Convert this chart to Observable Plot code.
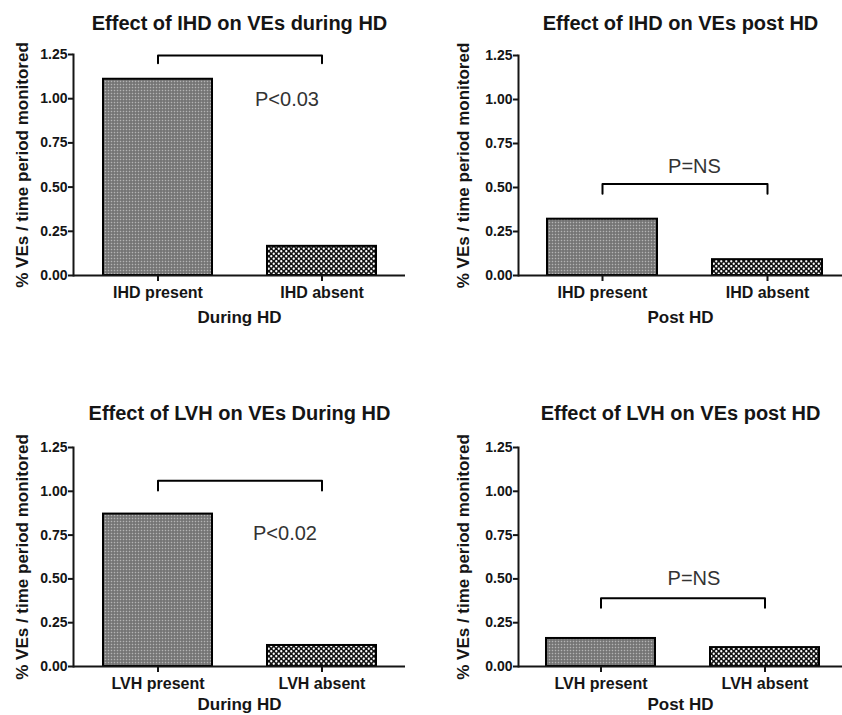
<!DOCTYPE html>
<html><head><meta charset="utf-8">
<script src="https://cdn.jsdelivr.net/npm/d3@7"></script>
<script src="https://cdn.jsdelivr.net/npm/@observablehq/plot@0.6"></script>
<style>
body{margin:0;background:#fff;}
#wrap{position:relative;width:842px;height:715px;overflow:hidden;}
.panel{position:absolute;}
.panel svg{display:block;}
</style></head><body>
<svg width="0" height="0" style="position:absolute">
<defs>
<pattern id="fineDots" width="3" height="3" patternUnits="userSpaceOnUse">
<rect width="3" height="3" fill="#828282"/>
<rect x="0" y="0" width="1" height="1" fill="#b4b4b4"/>
<rect x="1.5" y="1.5" width="1" height="1" fill="#505050"/>
</pattern>
<pattern id="coarseDots" width="5" height="5" patternUnits="userSpaceOnUse">
<rect width="5" height="5" fill="#111"/>
<circle cx="1.25" cy="1.25" r="1.15" fill="#fff"/>
<circle cx="3.75" cy="3.75" r="1.15" fill="#fff"/>
</pattern>
</defs></svg>
<div id="wrap"></div>
<script>
const titles = ["Effect of IHD on VEs during HD", "Effect of IHD on VEs post HD", "Effect of LVH on VEs During HD", "Effect of LVH on VEs post HD"];
const categories = [["IHD present", "IHD absent"], ["IHD present", "IHD absent"], ["LVH present", "LVH absent"], ["LVH present", "LVH absent"]];
const values = [[1.11, 0.165], [0.32, 0.09], [0.87, 0.12], [0.16, 0.108]];
const xTitles = ["During HD", "Post HD", "During HD", "Post HD"];
const yTitle = "% VEs / time period monitored";
const pTexts = ["P<0.03", "P=NS", "P<0.02", "P=NS"];
const pTextY = [0.995, 0.62, 0.76, 0.50];
const bracketTop = [1.245, 0.52, 1.06, 0.39];
const bracketFoot = [1.20, 0.465, 1.005, 0.335];
const yTicks = [0, 0.25, 0.5, 0.75, 1.0, 1.25];

const layout = [
  {left:0, top:0, width:420, height:330, mt:54, mb:55, ml:73, mr:15, xr:[103,377], titleDy:-31, xDy:42, pDx:-35, yDx:-51},
  {left:420, top:0, width:422, height:330, mt:55, mb:55, ml:98, mr:0, xr:[127,402], titleDy:-32, xDy:42, pDx:-73, yDx:-55},
  {left:0, top:380, width:420, height:335, mt:67, mb:49, ml:73, mr:15, xr:[103,377], titleDy:-34, xDy:38, pDx:-37, yDx:-51},
  {left:420, top:380, width:422, height:335, mt:67, mb:49, ml:98, mr:0, xr:[126,400], titleDy:-34, xDy:38, pDx:-71, yDx:-55}
];

const wrap = document.getElementById("wrap");
layout.forEach((L, i) => {
  const cats = categories[i];
  const data = cats.map((c, j) => ({cat: c, value: values[i][j]}));
  const bracket = [
    {x: cats[0], y: bracketFoot[i]}, {x: cats[0], y: bracketTop[i]},
    {x: cats[1], y: bracketTop[i]}, {x: cats[1], y: bracketFoot[i]}
  ];
  const chart = Plot.plot({
    width: L.width, height: L.height,
    marginTop: L.mt, marginBottom: L.mb, marginLeft: L.ml, marginRight: L.mr,
    style: {fontFamily: "'Liberation Sans', Arial, sans-serif", color: "#151515", background: "transparent", overflow: "visible"},
    x: {domain: cats, range: L.xr, paddingInner: 0.335, paddingOuter: 0},
    y: {domain: [0, 1.25]},
    marks: [
      Plot.barY(data.slice(0, 1), {x: "cat", y: "value", fill: "url(#fineDots)", stroke: "#000", strokeWidth: 2}),
      Plot.barY(data.slice(1, 2), {x: "cat", y: "value", fill: "url(#coarseDots)", stroke: "#000", strokeWidth: 2}),
      Plot.frame({anchor: "left", strokeWidth: 2}),
      Plot.ruleY([0], {strokeWidth: 2}),
      Plot.axisY({ticks: yTicks, tickFormat: d3.format(".2f"), tickSize: 5, tickPadding: 1, fontSize: 14, fontWeight: "bold", strokeWidth: 2, label: null}),
      Plot.axisX({tickSize: 6, tickPadding: 5, fontSize: 16, fontWeight: "bold", strokeWidth: 2, label: null}),
      Plot.line(bracket, {x: "x", y: "y", stroke: "#000", strokeWidth: 2}),
      Plot.text([{x: cats[1], y: pTextY[i], t: pTexts[i]}], {x: "x", y: "y", text: "t", dx: L.pDx, fontSize: 20, fill: "#333"}),
      Plot.text([titles[i]], {frameAnchor: "top", lineAnchor: "middle", dy: L.titleDy, text: d => d, fontSize: 20, fontWeight: "bold"}),
      Plot.text([xTitles[i]], {frameAnchor: "bottom", lineAnchor: "middle", dy: L.xDy, text: d => d, fontSize: 17, fontWeight: "bold"}),
      Plot.text([yTitle], {frameAnchor: "left", textAnchor: "middle", lineAnchor: "middle", rotate: -90, dx: L.yDx, text: d => d, fontSize: 17, fontWeight: "bold"})
    ]
  });
  const div = document.createElement("div");
  div.className = "panel";
  div.style.left = L.left + "px";
  div.style.top = L.top + "px";
  div.appendChild(chart);
  wrap.appendChild(div);
});
</script>
</body></html>
